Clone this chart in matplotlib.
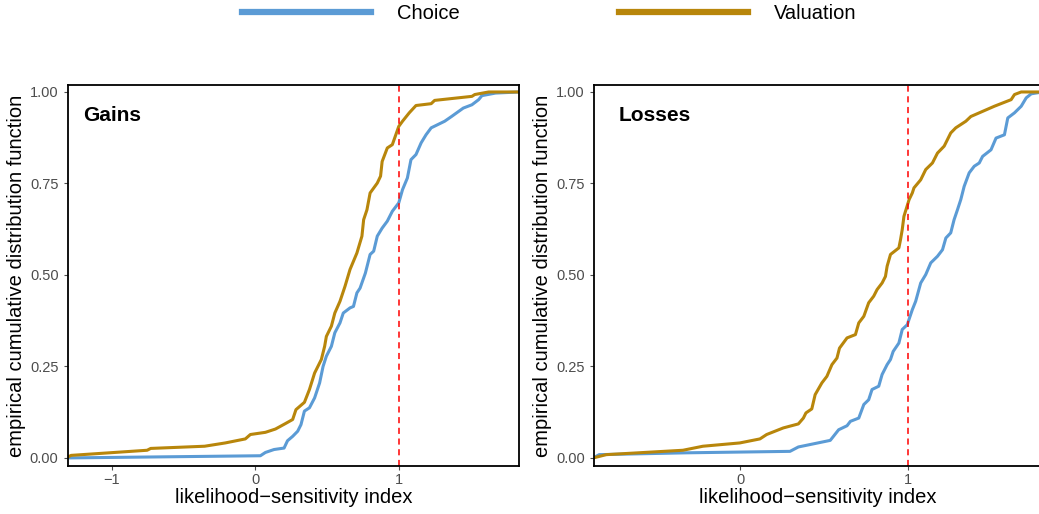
import matplotlib
matplotlib.use("Agg")
import matplotlib.pyplot as plt
from matplotlib.lines import Line2D

plt.rcParams['font.family'] = ['Liberation Sans', 'DejaVu Sans']

# Gains panel
gains_val_x = [-1.32, -1.285, -0.755, -0.73, -0.354, -0.21, -0.07, -0.035, 0.07, 0.14, 0.21, 0.26,
               0.283, 0.342, 0.377, 0.413, 0.46, 0.483, 0.495, 0.53, 0.554, 0.59, 0.625, 0.66,
               0.708, 0.743, 0.755, 0.778, 0.80, 0.85, 0.873, 0.884, 0.92, 0.955, 1.0, 1.026,
               1.073, 1.12, 1.226, 1.25, 1.51, 1.53, 1.627, 1.84]
gains_val_y = [0.0, 0.007, 0.021, 0.026, 0.032, 0.041, 0.052, 0.064, 0.070, 0.079, 0.094, 0.105,
               0.132, 0.152, 0.187, 0.232, 0.269, 0.305, 0.332, 0.36, 0.396, 0.428, 0.469, 0.515,
               0.56, 0.606, 0.651, 0.678, 0.724, 0.751, 0.77, 0.81, 0.847, 0.856, 0.906, 0.92,
               0.943, 0.963, 0.968, 0.977, 0.988, 0.993, 1.0, 1.0]
gains_cho_x = [-1.32, 0.035, 0.07, 0.13, 0.2, 0.224, 0.26, 0.295, 0.318, 0.342, 0.377, 0.413,
               0.448, 0.472, 0.495, 0.53, 0.554, 0.59, 0.613, 0.66, 0.684, 0.708, 0.73, 0.767,
               0.80, 0.825, 0.85, 0.884, 0.92, 0.955, 1.0, 1.026, 1.06, 1.085, 1.12, 1.156,
               1.19, 1.226, 1.32, 1.368, 1.45, 1.51, 1.557, 1.58, 1.675, 1.84]
gains_cho_y = [0.0, 0.006, 0.015, 0.023, 0.027, 0.047, 0.059, 0.073, 0.091, 0.128, 0.137, 0.164,
               0.205, 0.25, 0.278, 0.305, 0.342, 0.369, 0.396, 0.41, 0.414, 0.451, 0.464, 0.505,
               0.556, 0.565, 0.606, 0.628, 0.647, 0.674, 0.697, 0.733, 0.765, 0.815, 0.829, 0.861,
               0.883, 0.902, 0.92, 0.933, 0.956, 0.965, 0.979, 0.99, 0.997, 1.0]

# Losses panel
losses_val_x = [-0.878, -0.80, -0.343, -0.224, -0.004, 0.116, 0.156, 0.255, 0.345, 0.375, 0.39,
                0.425, 0.445, 0.485, 0.515, 0.545, 0.575, 0.59, 0.635, 0.685, 0.705, 0.735, 0.764,
                0.794, 0.814, 0.844, 0.864, 0.874, 0.894, 0.944, 0.954, 0.964, 0.974, 1.005, 1.024,
                1.034, 1.074, 1.104, 1.144, 1.174, 1.214, 1.253, 1.283, 1.343, 1.373, 1.513, 1.613,
                1.633, 1.673, 1.80]
losses_val_y = [0.0, 0.009, 0.021, 0.032, 0.041, 0.052, 0.064, 0.082, 0.093, 0.109, 0.123,
                0.134, 0.173, 0.205, 0.223, 0.255, 0.273, 0.30, 0.328, 0.337, 0.369, 0.387, 0.424,
                0.442, 0.46, 0.478, 0.496, 0.524, 0.556, 0.574, 0.597, 0.624, 0.66, 0.706, 0.724,
                0.738, 0.76, 0.788, 0.806, 0.833, 0.852, 0.888, 0.902, 0.92, 0.933, 0.961, 0.979,
                0.993, 1.0, 1.0]
losses_cho_x = [-0.878, -0.842, -0.323, 0.295, 0.345, 0.535, 0.585, 0.635, 0.655, 0.705, 0.735,
                0.764, 0.784, 0.824, 0.844, 0.874, 0.894, 0.91, 0.944, 0.964, 0.994, 1.004, 1.024,
                1.044, 1.074, 1.104, 1.134, 1.174, 1.204, 1.224, 1.253, 1.273, 1.293, 1.313, 1.333,
                1.363, 1.393, 1.423, 1.443, 1.493, 1.523, 1.573, 1.593, 1.633, 1.673, 1.703, 1.733,
                1.80]
losses_cho_y = [0.0, 0.009, 0.014, 0.018, 0.03, 0.048, 0.077, 0.088, 0.10, 0.109, 0.146,
                0.159, 0.187, 0.196, 0.228, 0.255, 0.269, 0.291, 0.314, 0.351, 0.364, 0.378, 0.405,
                0.428, 0.478, 0.501, 0.533, 0.551, 0.569, 0.601, 0.615, 0.651, 0.678, 0.706, 0.742,
                0.779, 0.797, 0.806, 0.824, 0.842, 0.874, 0.883, 0.929, 0.943, 0.961, 0.984, 0.995,
                1.0]

yticks = [0.0, 0.25, 0.5, 0.75, 1.0]
ytick_labels = ["0.00", "0.25", "0.50", "0.75", "1.00"]

blue = "#5B9BD5"
gold = "#B8860B"
grey = "#4D4D4D"

fig = plt.figure(figsize=(10.39, 5.14), dpi=100)
ax1 = fig.add_axes([0.065, 0.0934, 0.4346, 0.7412])
ax2 = fig.add_axes([0.5717, 0.0934, 0.4312, 0.7412])

panels = [
    (ax1, "Gains", 0.034, gains_cho_x, gains_cho_y, gains_val_x, gains_val_y, (-1.31, 1.839), [-1, 0, 1]),
    (ax2, "Losses", 0.054, losses_cho_x, losses_cho_y, losses_val_x, losses_val_y, (-0.873, 1.797), [0, 1]),
]

for ax, title, tx, cx, cy, vx, vy, xlim, xticks in panels:
    ax.plot(cx, cy, color=blue, lw=2.2, solid_joinstyle="round")
    ax.plot(vx, vy, color=gold, lw=2.2, solid_joinstyle="round")
    ax.axvline(1, color="red", ls=(0, (4, 3)), lw=1.1)
    ax.set_xlim(*xlim)
    ax.set_ylim(-0.022, 1.019)
    ax.set_xticks(xticks)
    ax.set_xticklabels(["\u2212" + str(-t) if t < 0 else str(t) for t in xticks])
    ax.set_yticks(yticks)
    ax.set_yticklabels(ytick_labels)
    ax.tick_params(colors=grey, labelsize=10.5, length=3, width=0.8)
    ax.tick_params(axis="x", pad=2)
    for s in ax.spines.values():
        s.set_linewidth(1.3)
        s.set_color("black")
    ax.set_xlabel("likelihood\u2212sensitivity index", fontsize=14.5, labelpad=1)
    ax.set_ylabel("empirical cumulative distribution function", fontsize=14.5, labelpad=3)
    ax.text(tx, 0.92, title, transform=ax.transAxes, fontsize=15, fontweight="bold",
            va="center", ha="left")

handles = [Line2D([], [], color=blue, lw=4.5), Line2D([], [], color=gold, lw=4.5)]
fig.legend(handles, ["Choice", "Valuation"], loc="center", bbox_to_anchor=(0.529, 0.973),
           ncol=2, frameon=False, fontsize=14.5, handlelength=6.4, handletextpad=1.3,
           columnspacing=7.9)

fig.savefig("out.png", dpi=100)
plt.close(fig)
